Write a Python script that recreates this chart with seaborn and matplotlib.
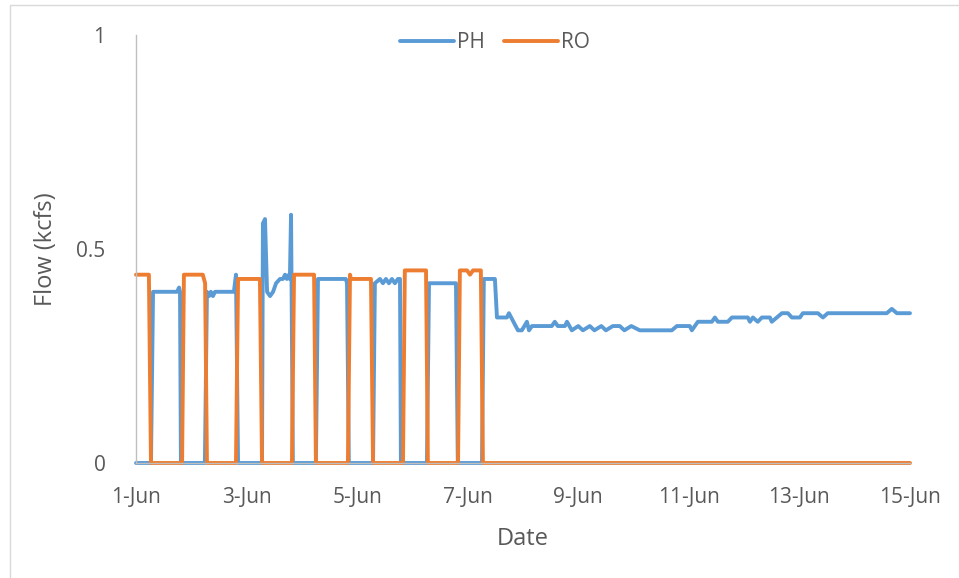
import pandas as pd
import matplotlib
matplotlib.use("Agg")
import matplotlib.pyplot as plt
import seaborn as sns
from matplotlib.patches import Rectangle

# PH flow: hours since 1-Jun 00:00 and flow (kcfs)
ph_hours = [0, 6.5, 7.4, 17.8, 18.7, 19.1, 19.5,
            29.9, 30.8, 31.7, 32.5, 33.4, 34.3, 42.5, 43.4, 44.3,
            54.7, 55.1, 56.0, 56.9, 58.2, 59.5, 60.8, 62.5, 63.8, 64.7, 65.5, 66.4, 66.8, 67.3, 68.1,
            78.1, 79.0, 91.1, 91.6, 92.4,
            102.9, 103.7, 105.9, 107.2, 108.5, 109.8, 111.1, 112.4, 113.7, 114.6, 115.0,
            126.3, 127.2, 138.9, 139.7,
            150.2, 151.0, 155.8, 156.7, 161.0, 161.9, 165.8, 167.5, 169.7, 170.6, 171.9,
            180.5, 181.8, 183.1, 186.2, 187.1, 189.2,
            192, 194, 197, 199, 202, 204, 207, 210, 212, 215, 218.7,
            232.6, 234.8, 240.4, 241.3, 243.9, 250.0, 251.3, 252.6, 256.9, 258.7,
            265.6, 266.5, 267.8, 269.9, 271.7, 275.2, 276.0, 278.2, 280.4, 283.0, 284.7,
            288.2, 289.5, 296.0, 298.2, 300.3, 325.9, 328.1, 330.3, 336]
ph_flow = [0, 0, 0.40, 0.40, 0.41, 0.40, 0,
           0, 0.40, 0.39, 0.40, 0.39, 0.40, 0.40, 0.44, 0,
           0, 0.56, 0.57, 0.40, 0.39, 0.40, 0.42, 0.43, 0.43, 0.44, 0.43, 0.44, 0.43, 0.58, 0,
           0, 0.43, 0.43, 0.42, 0,
           0, 0.42, 0.43, 0.42, 0.43, 0.42, 0.43, 0.42, 0.43, 0.43, 0,
           0, 0.42, 0.42, 0,
           0, 0.43, 0.43, 0.34, 0.34, 0.35, 0.31, 0.31, 0.33, 0.31, 0.32,
           0.32, 0.33, 0.32, 0.32, 0.33, 0.31,
           0.32, 0.31, 0.32, 0.31, 0.32, 0.31, 0.32, 0.32, 0.31, 0.32, 0.31,
           0.31, 0.32, 0.32, 0.31, 0.33, 0.33, 0.34, 0.33, 0.33, 0.34,
           0.34, 0.33, 0.34, 0.33, 0.34, 0.34, 0.33, 0.34, 0.35, 0.35, 0.34,
           0.34, 0.35, 0.35, 0.34, 0.35, 0.35, 0.36, 0.35, 0.35]

# RO flow
ro_hours = [0, 5.6, 6.5, 20.0, 20.8, 29.0, 30.0, 30.8, 43.4, 44.3, 53.8, 54.7,
            67.7, 68.6, 77.3, 78.1, 92.0, 92.9, 93.3, 102.0, 102.9,
            115.9, 116.7, 125.9, 126.7, 139.8, 140.6, 143.7, 145.0, 146.3, 149.7, 150.6, 336]
ro_flow = [0.44, 0.44, 0, 0, 0.44, 0.44, 0.42, 0, 0, 0.43, 0.43, 0,
           0, 0.44, 0.44, 0, 0, 0.44, 0.43, 0.43, 0,
           0, 0.45, 0.45, 0, 0, 0.45, 0.45, 0.44, 0.45, 0.45, 0, 0]

tick_days = [0, 2, 4, 6, 8, 10, 12, 14]
tick_labels = ["1-Jun", "3-Jun", "5-Jun", "7-Jun", "9-Jun", "11-Jun", "13-Jun", "15-Jun"]
y_ticks = [0, 0.5, 1]
y_labels = ["0", "0.5", "1"]

start = pd.Timestamp("2018-06-01")
df = pd.concat([
    pd.DataFrame({"Date": start + pd.to_timedelta(ph_hours, unit="h"), "Flow": ph_flow, "Series": "PH"}),
    pd.DataFrame({"Date": start + pd.to_timedelta(ro_hours, unit="h"), "Flow": ro_flow, "Series": "RO"}),
])

sns.set_style("white")
plt.rcParams["font.family"] = ["Open Sans", "DejaVu Sans"]
grey = "#595959"
lw = 2.8

fig = plt.figure(figsize=(9.59, 5.78), dpi=100)
ax = fig.add_axes([136 / 959, 1 - 463 / 578, (910 - 136) / 959, (463 - 35) / 578])

sns.lineplot(data=df, x="Date", y="Flow", hue="Series",
             palette={"PH": "#5B9BD5", "RO": "#ED7D31"},
             linewidth=lw, ax=ax, legend=False, clip_on=False)

ax.set_xlim(start, start + pd.Timedelta(days=14))
ax.set_ylim(0, 1)
ax.set_xticks([start + pd.Timedelta(days=d) for d in tick_days])
ax.set_xticklabels(tick_labels)
ax.set_yticks(y_ticks)
ax.set_yticklabels(y_labels)
ax.tick_params(axis="both", length=0, labelsize=15, colors=grey)
ax.tick_params(axis="y", pad=22)
ax.tick_params(axis="x", pad=17)

for s in ["top", "right"]:
    ax.spines[s].set_visible(False)
ax.spines["left"].set_color("#BFBFBF")
ax.spines["bottom"].set_color("#BFBFBF")
ax.spines["left"].set_linewidth(1)
ax.spines["bottom"].set_linewidth(1)

ax.set_xlabel("Date", fontsize=17, color=grey, labelpad=14)
ax.set_ylabel("Flow (kcfs)", fontsize=17, color=grey, labelpad=13)

handles = [plt.Line2D([], [], color="#5B9BD5", lw=lw, solid_capstyle="round"),
           plt.Line2D([], [], color="#ED7D31", lw=lw, solid_capstyle="round")]
fig.legend(handles, ["PH", "RO"], loc="center", bbox_to_anchor=(495 / 959, 1 - 43 / 578),
           ncol=2, frameon=False, fontsize=15, handlelength=2.6, handletextpad=0.15,
           columnspacing=0.9, labelcolor=grey)

# chart border
fig.patches.append(Rectangle((10 / 959, -0.05), 1.1, 1 - 5 / 578 + 0.05,
                             transform=fig.transFigure, fill=False,
                             edgecolor="#D9D9D9", linewidth=1))

fig.savefig("out.png", dpi=100)
